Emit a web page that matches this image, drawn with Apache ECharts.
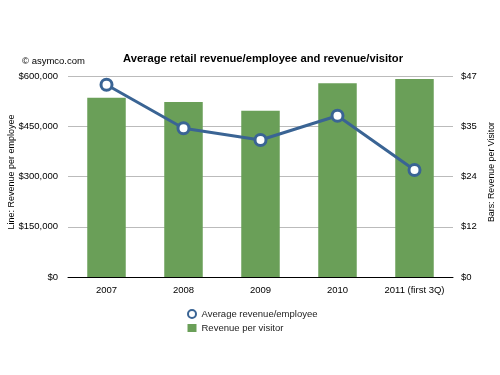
<!DOCTYPE html>
<html><head><meta charset="utf-8">
<script src="https://cdn.jsdelivr.net/npm/echarts@6/dist/echarts.min.js"></script>
<style>html,body{margin:0;padding:0;background:#fff}#c{width:500px;height:375px}</style>
</head><body><div id="c"></div>
<script>
const categories = ['2007', '2008', '2009', '2010', '2011 (first 3Q)'];
const revenuePerEmployee = [574000, 444000, 409000, 481500, 319500];
const revenuePerVisitor = [41.9, 40.9, 38.9, 45.3, 46.3];
const leftTicks = [0, 150000, 300000, 450000, 600000];
const rightMax = 47;

const chart = echarts.init(document.getElementById('c'));
const font = 'Liberation Sans, Arial, Helvetica, sans-serif';
chart.setOption({
  animation: false,
  textStyle: { fontFamily: font },
  title: [
    { text: 'Average retail revenue/employee and revenue/visitor', left: 258, top: 48, textAlign: 'center',
      textStyle: { fontSize: 11.2, fontWeight: 'bold', color: '#000', fontFamily: font } },
    { text: '© asymco.com', left: 17, top: 51, textStyle: { fontSize: 9.5, fontWeight: 'normal', color: '#000', fontFamily: font } }
  ],
  grid: { left: 68, right: 47, top: 76, bottom: 98, outerBoundsMode: 'none', containLabel: false },
  legend: {
    orient: 'vertical', left: 182, top: 304, itemGap: 4, itemWidth: 9, itemHeight: 8,
    textStyle: { fontSize: 9.5, color: '#222', fontFamily: font },
    data: [
      { name: 'Average revenue/employee', icon: 'circle', itemStyle: { color: '#fff', borderColor: '#3a6494', borderWidth: 2 } },
      { name: 'Revenue per visitor', icon: 'rect' }
    ]
  },
  xAxis: {
    type: 'category', data: categories,
    axisLine: { lineStyle: { color: '#000', width: 1 } },
    axisTick: { show: false },
    axisLabel: { fontSize: 9.5, color: '#000', margin: 8, interval: 0 }
  },
  yAxis: [
    { type: 'value', min: 0, max: leftTicks[leftTicks.length - 1], interval: leftTicks[1] - leftTicks[0],
      name: 'Line: Revenue per employee', nameLocation: 'middle', nameGap: 52, nameRotate: 90, nameMoveOverlap: false,
      nameTextStyle: { fontSize: 9, color: '#000', padding: [0, 0, 0, 9] },
      axisLine: { show: false }, axisTick: { show: false },
      axisLabel: { fontSize: 9.5, color: '#000', margin: 10, formatter: v => '$' + v.toLocaleString('en-US') },
      splitLine: { lineStyle: { color: '#bbb', width: 1 } } },
    { type: 'value', min: 0, max: rightMax, interval: rightMax / 4, position: 'right',
      name: 'Bars: Revenue per Visitor', nameLocation: 'middle', nameGap: 34, nameRotate: 90, nameMoveOverlap: false,
      nameTextStyle: { fontSize: 8.8, color: '#000', padding: [0, 0, 0, 9] },
      axisLine: { show: false }, axisTick: { show: false },
      axisLabel: { fontSize: 9.5, color: '#000', margin: 8, formatter: v => '$' + Math.round(v) },
      splitLine: { show: false } }
  ],
  series: [
    { name: 'Revenue per visitor', type: 'bar', yAxisIndex: 1, data: revenuePerVisitor, barWidth: '50%',
      itemStyle: { color: '#6a9f58' } },
    { name: 'Average revenue/employee', type: 'line', yAxisIndex: 0, data: revenuePerEmployee,
      symbol: 'circle', symbolSize: 11,
      lineStyle: { color: '#3a6494', width: 3 },
      itemStyle: { color: '#fff', borderColor: '#3a6494', borderWidth: 3 }, z: 5 }
  ]
});
</script></body></html>
